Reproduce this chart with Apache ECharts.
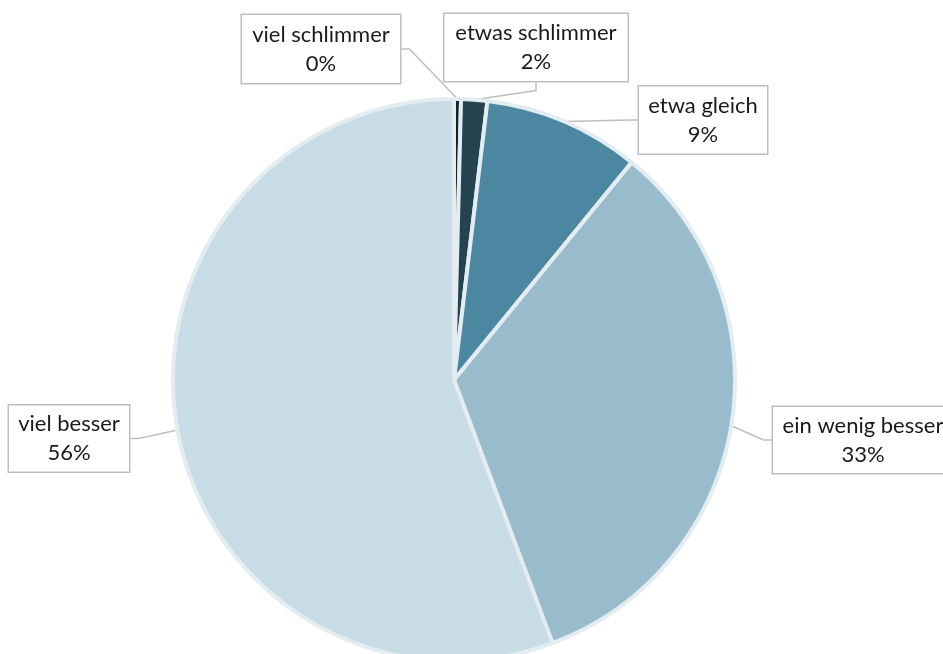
<!DOCTYPE html>
<html>
<head>
<meta charset="utf-8">
<script src="https://cdn.jsdelivr.net/npm/echarts@6/dist/echarts.min.js"></script>
<style>
  html, body { margin: 0; padding: 0; background: #ffffff; }
  #chart { width: 943px; height: 654px; }
</style>
</head>
<body>
<div id="chart"></div>
<script>
// Answers, in clockwise order from the top of the pie
const categories = ['viel schlimmer', 'etwas schlimmer', 'etwa gleich', 'ein wenig besser', 'viel besser'];
// Share of answers in percent
const shares = [0.4, 1.5, 9.0, 33.4, 55.7];

// Slice colours, dark to light
const sliceColors = ['#13232b', '#25434f', '#4b87a1', '#99bccd', '#c8dce5'];

// Callout boxes: centre and size in pixels
const calloutBoxes = [
  { x: 321, y: 49, w: 158, h: 68 },
  { x: 536, y: 47.5, w: 183, h: 67 },
  { x: 703, y: 120, w: 128, h: 67 },
  { x: 863, y: 440, w: 180, h: 66 },
  { x: 69, y: 438.5, w: 120, h: 66 }
];

const LINE_HEIGHT = 29;

const chart = echarts.init(document.getElementById('chart'), null, { renderer: 'canvas' });

const data = categories.map((name, i) => {
  const b = calloutBoxes[i];
  const padV = Math.max(0, (b.h - 2 * LINE_HEIGHT) / 2);
  return {
    name: name,
    value: shares[i],
    itemStyle: { color: sliceColors[i] },
    label: { width: b.w, padding: [padV, 0, padV, 0] }
  };
});

chart.setOption({
  animation: false,
  backgroundColor: '#ffffff',
  series: [{
    type: 'pie',
    center: [454, 380],
    radius: 281,
    startAngle: 90,
    clockwise: true,
    avoidLabelOverlap: false,
    data: data,
    itemStyle: {
      borderColor: '#e2ecf1',
      borderWidth: 4
    },
    label: {
      show: true,
      formatter: p => p.name + '\n' + Math.round(p.value) + '%',
      fontFamily: 'Lato',
      fontSize: 22,
      lineHeight: LINE_HEIGHT,
      color: '#1a1a1a',
      align: 'center',
      backgroundColor: '#ffffff',
      borderColor: '#bfbfbf',
      borderWidth: 1.5
    },
    labelLine: {
      show: true,
      length: 8,
      length2: 8,
      smooth: false,
      lineStyle: { color: '#bfbfbf', width: 1.5 }
    },
    labelLayout: function (params) {
      const b = calloutBoxes[params.dataIndex];
      return {
        x: b.x,
        y: b.y,
        align: 'center',
        verticalAlign: 'middle'
      };
    },
    emphasis: { disabled: true }
  }]
});
</script>
</body>
</html>
